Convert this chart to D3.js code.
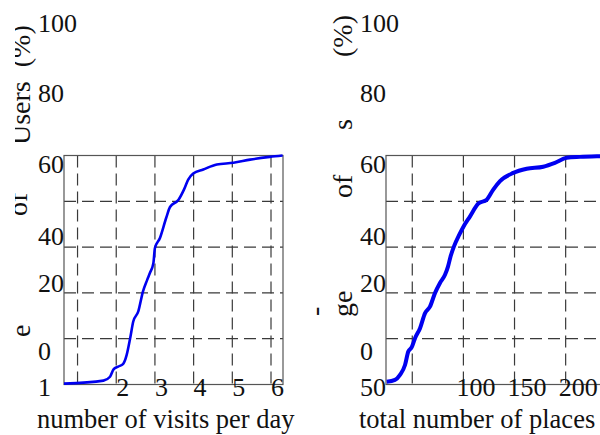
<!DOCTYPE html>
<html>
<head>
<meta charset="utf-8">
<script src="https://cdn.jsdelivr.net/npm/d3@7/dist/d3.min.js"></script>
<style>
  body { margin: 0; background: #fff; }
  svg text { font-family: "Liberation Serif", "Times New Roman", "DejaVu Serif", serif; fill: #111; }
</style>
</head>
<body>
<div id="chart"></div>
<script>
// Values (cumulative percentages)
const visitsX   = [0.65, 1.67, 1.84, 1.93, 2.05, 2.18, 2.27, 2.36, 2.44, 2.57, 2.69, 2.80, 2.87, 2.96, 3.00, 3.13, 3.29, 3.39, 3.61, 3.75, 3.86, 3.99, 4.25, 4.60, 5.03, 5.46, 5.97, 6.30];
const visitsPct = [0.4, 1.7, 3.4, 6.6, 7.8, 9.0, 12.9, 20.2, 27.5, 31.9, 40.6, 45.7, 48.7, 53.0, 59.6, 64.0, 72.7, 77.5, 80.7, 85.1, 89.5, 92.1, 93.9, 96.1, 96.8, 98.2, 99.4, 100];

const placesX   = [25.0, 33.1, 38.0, 42.9, 46.1, 49.5, 52.7, 57.6, 62.5, 67.3, 72.2, 77.1, 82.0, 85.0, 87.5, 90.8, 96.0, 99.9, 106.5, 114.6, 122.8, 129.2, 135.8, 148.8, 161.9, 178.1, 189.5, 201.0, 214.0, 233.5, 260];
const placesPct = [1.2, 2.0, 4.2, 8.5, 14.4, 16.3, 20.2, 24.6, 31.2, 34.0, 39.9, 44.3, 47.9, 51.6, 56.0, 60.3, 65.4, 68.8, 73.4, 79.0, 80.7, 85.1, 88.8, 92.4, 94.2, 95.1, 96.8, 99.0, 99.4, 99.7, 99.9];

// Tick values and labels
const pctGrid = [20, 40, 60, 80];
const yTickLabels = ["100", "80", "60", "40", "20", "0"];
const visitsGrid = [1, 2, 3, 4, 5, 6];
const visitsTickValues = [2, 3, 4, 5, 6];
const placesGrid = [50, 100, 150, 200, 250];
const placesTickValues = [100, 150, 200];

const width = 600, height = 435;
const plotTop = 155.5, plotBottom = 384.5;
const serif = '"Liberation Serif", "Times New Roman", "DejaVu Serif", serif';
// label baselines as they sit in the picture
const yLabelBase = [32, 102, 173, 245, 292, 360];
const xLabelBase = 396, titleBase = 428;

const svg = d3.select("#chart").append("svg")
  .attr("width", width)
  .attr("height", height)
  .attr("font-family", serif);

const y = d3.scaleLinear().domain([0, 100]).range([plotBottom, plotTop]);

const panels = [
  {
    x: d3.scaleLinear().domain([0.65, 6.31]).range([64, 283]),
    grid: visitsGrid, ticks: visitsTickValues, tickShift: 0,
    xs: visitsX, ys: visitsPct, lineW: 2.6,
    labelX: 38, origin: "1", title: "number of visits per day",
    frag: [
      { t: "Users  (%)", x: 30, y: 145 },
      { t: "of", x: 27, y: 216 },
      { t: "e", x: 30, y: 337 }
    ],
    clipX: 15
  },
  {
    x: d3.scaleLinear().domain([24.3, 260]).range([386, 627]),
    grid: placesGrid, ticks: placesTickValues, tickShift: -7,
    xs: placesX, ys: placesPct, lineW: 4,
    labelX: 360, origin: "50", title: "total number of places",
    frag: [
      { t: "(%)", x: 352, y: 57 },
      { t: "s", x: 352, y: 130 },
      { t: "of", x: 352, y: 198 },
      { t: "ge", x: 352, y: 317 },
      { t: "-", x: 324, y: 316 }
    ],
    clipX: 300
  }
];

panels.forEach((p, i) => {
  const g = svg.append("g").attr("class", "panel-" + i);
  const [x0, x1] = p.x.range();

  // dashed grid
  g.selectAll("line.vgrid")
    .data(p.grid)
    .enter().append("line")
      .attr("class", "vgrid")
      .attr("x1", d => p.x(d)).attr("x2", d => p.x(d))
      .attr("y1", plotTop).attr("y2", plotBottom)
      .attr("stroke", "#3a3a3a").attr("stroke-width", 1.2)
      .attr("stroke-dasharray", "12,6");

  g.selectAll("line.hgrid")
    .data(pctGrid)
    .enter().append("line")
      .attr("class", "hgrid")
      .attr("x1", x0).attr("x2", x1)
      .attr("y1", d => y(d)).attr("y2", d => y(d))
      .attr("stroke", "#3a3a3a").attr("stroke-width", 1.2)
      .attr("stroke-dasharray", "12,6");

  // frame
  g.append("rect")
    .attr("x", x0).attr("y", plotTop)
    .attr("width", x1 - x0).attr("height", plotBottom - plotTop)
    .attr("fill", "none")
    .attr("stroke", "#555").attr("stroke-width", 1.2);

  // curve
  const line = d3.line()
    .x((d, k) => p.x(p.xs[k]))
    .y(d => y(d))
    .curve(d3.curveMonotoneX);

  g.append("path")
    .datum(p.ys)
    .attr("d", line)
    .attr("fill", "none")
    .attr("stroke", "#0000f0")
    .attr("stroke-width", p.lineW)
    .attr("stroke-linejoin", "round");

  // y labels
  g.selectAll("text.ylab")
    .data(yTickLabels)
    .enter().append("text")
      .attr("class", "ylab")
      .attr("x", p.labelX)
      .attr("y", (d, k) => yLabelBase[k])
      .attr("font-size", 26)
      .text(d => d);

  g.append("text")
    .attr("x", p.labelX).attr("y", xLabelBase)
    .attr("font-size", 26)
    .text(p.origin);

  // x labels
  g.selectAll("text.xlab")
    .data(p.ticks)
    .enter().append("text")
      .attr("class", "xlab")
      .attr("x", d => p.x(d) + p.tickShift)
      .attr("y", xLabelBase)
      .attr("font-size", 26)
      .text(d => d);

  g.append("text")
    .attr("x", p.labelX - 1).attr("y", titleBase)
    .attr("font-size", 26.5)
    .text(p.title);

  // pieces of the rotated y title that survive in the picture
  const clipId = "clip-" + i;
  svg.append("clipPath").attr("id", clipId)
    .append("rect").attr("x", p.clipX).attr("y", 0)
    .attr("width", 120).attr("height", height);

  g.append("g").attr("clip-path", "url(#" + clipId + ")")
    .selectAll("text")
    .data(p.frag)
    .enter().append("text")
      .attr("transform", d => "translate(" + d.x + "," + d.y + ") rotate(-90)")
      .attr("font-size", 28)
      .attr("xml:space", "preserve")
      .style("white-space", "pre")
      .text(d => d.t);
});
</script>
</body>
</html>
